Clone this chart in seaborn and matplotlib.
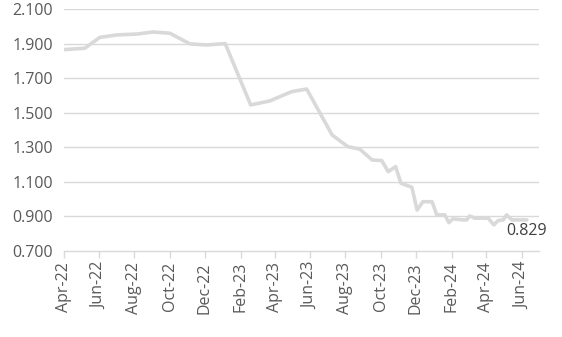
import matplotlib
matplotlib.use("Agg")
import matplotlib.pyplot as plt
import matplotlib.dates as mdates
import seaborn as sns
import pandas as pd

dates = ["2022-04-01", "2022-05-07", "2022-06-02", "2022-07-02", "2022-08-05",
         "2022-09-02", "2022-10-01", "2022-11-05", "2022-12-04", "2023-01-05",
         "2023-02-18", "2023-03-23", "2023-04-30", "2023-05-26", "2023-07-09",
         "2023-08-05", "2023-08-26", "2023-09-16", "2023-10-03", "2023-10-14",
         "2023-10-27", "2023-11-05", "2023-11-24", "2023-12-03", "2023-12-13",
         "2023-12-29", "2024-01-06", "2024-01-20", "2024-01-27", "2024-02-03",
         "2024-02-19", "2024-02-27", "2024-03-03", "2024-03-12", "2024-04-04",
         "2024-04-14", "2024-04-21", "2024-04-30", "2024-05-06", "2024-05-15",
         "2024-06-10"]
values = [1.865, 1.873, 1.936, 1.950, 1.955,
          1.967, 1.960, 1.898, 1.892, 1.900,
          1.545, 1.568, 1.622, 1.637, 1.371,
          1.304, 1.289, 1.227, 1.223, 1.159,
          1.188, 1.092, 1.069, 0.937, 0.985,
          0.985, 0.909, 0.909, 0.864, 0.886,
          0.880, 0.880, 0.903, 0.890, 0.890,
          0.851, 0.876, 0.880, 0.909, 0.880,
          0.880]
last_label = "0.829"
yticks = [0.7, 0.9, 1.1, 1.3, 1.5, 1.7, 1.9, 2.1]

df = pd.DataFrame({"date": pd.to_datetime(dates), "value": values})

sns.set_theme(style="white")
plt.rcParams["font.family"] = ["Open Sans", "DejaVu Sans"]

fig = plt.figure(figsize=(5.62, 3.37), dpi=100)
ax = fig.add_axes([64/562, 1 - 251/337, (539-64)/562, (251-9)/337])

for y in yticks[1:]:
    ax.axhline(y, color="#d9d9d9", lw=1.0, zorder=0)

sns.lineplot(data=df, x="date", y="value", ax=ax, color="#d9d9d9", lw=2.6)

ax.set_ylim(0.7, 2.1)
ax.set_xlim(pd.Timestamp("2022-04-01"), pd.Timestamp("2024-07-01"))
ax.set_yticks(yticks)
ax.set_yticklabels([f"{v:.3f}" for v in yticks])
ax.xaxis.set_major_locator(mdates.MonthLocator(bymonth=[2, 4, 6, 8, 10, 12]))
ax.xaxis.set_major_formatter(mdates.DateFormatter("%b-%y"))
ax.set_xlabel("")
ax.set_ylabel("")

for s in ["top", "right", "left"]:
    ax.spines[s].set_visible(False)
ax.spines["bottom"].set_color("#d9d9d9")
ax.spines["bottom"].set_linewidth(1.0)

ax.tick_params(axis="x", rotation=90, labelsize=11.5, colors="#595959",
               length=5, width=1, color="#d9d9d9", pad=3, bottom=True)
ax.tick_params(axis="y", labelsize=11.5, colors="#595959", length=0, pad=8)

ax.annotate(last_label, xy=(df["date"].iloc[-1], df["value"].iloc[-1]),
            xytext=(-15, -8), textcoords="offset points", ha="left", va="center",
            fontsize=11.5, color="#404040")

fig.savefig("out.png", dpi=100)
